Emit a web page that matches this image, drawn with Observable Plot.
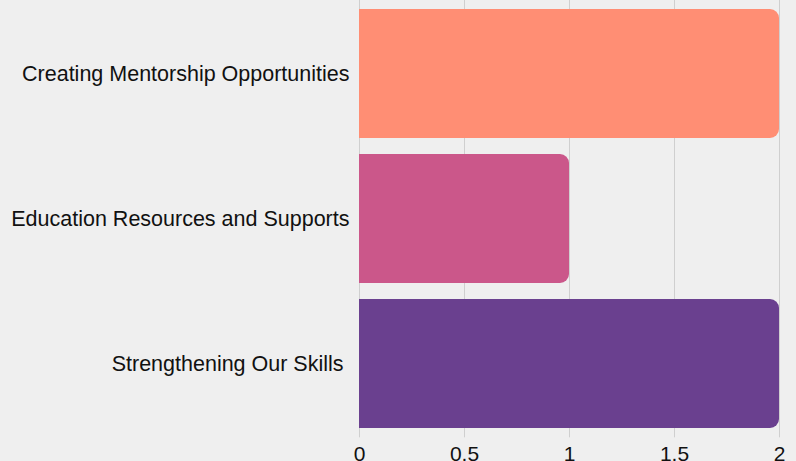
<!DOCTYPE html>
<html><head><meta charset="utf-8">
<script src="https://cdn.jsdelivr.net/npm/d3@7"></script>
<script src="https://cdn.jsdelivr.net/npm/@observablehq/plot@0.6"></script>
<style>
html,body{margin:0;padding:0;background:#efefef;}
svg text{white-space:pre;}
</style></head><body>
<div id="chart"></div>
<script>
const categories = ["Creating Mentorship Opportunities", "Education Resources and Supports", "Strengthening Our Skills "];
const values = [2, 1, 2];
const colors = ["#ff8e74", "#cb578a", "#6a408f"];
const xTicks = [0, 0.5, 1, 1.5, 2];

const data = categories.map((c, i) => ({category: c, value: values[i], color: colors[i]}));

const chart = Plot.plot({
  width: 796,
  height: 461,
  marginLeft: 359,
  marginRight: 17,
  marginTop: 0,
  marginBottom: 23.7,
  style: {background: "#efefef", fontFamily: "'Liberation Sans', Arial, sans-serif", fontSize: "21px", color: "#111"},
  x: {domain: [0, 2], ticks: xTicks, tickFormat: d => String(d), label: null, grid: false},
  y: {domain: categories, paddingInner: 0.111, paddingOuter: 0.062, label: null},
  marks: [
    Plot.gridX(xTicks, {stroke: "#cfcfcf", strokeOpacity: 1, strokeWidth: 1}),
    Plot.barX(data, {x: "value", y: "category", fill: "color", rx2: 9}),
    Plot.axisX({ticks: xTicks, tickSize: 0, tickPadding: 8, tickFormat: d => String(d), fontSize: 21, label: null}),
    Plot.axisY({tickSize: 0, tickPadding: 10, fontSize: 21.5, label: null})
  ]
});
document.getElementById("chart").appendChild(chart);
</script>
</body></html>
